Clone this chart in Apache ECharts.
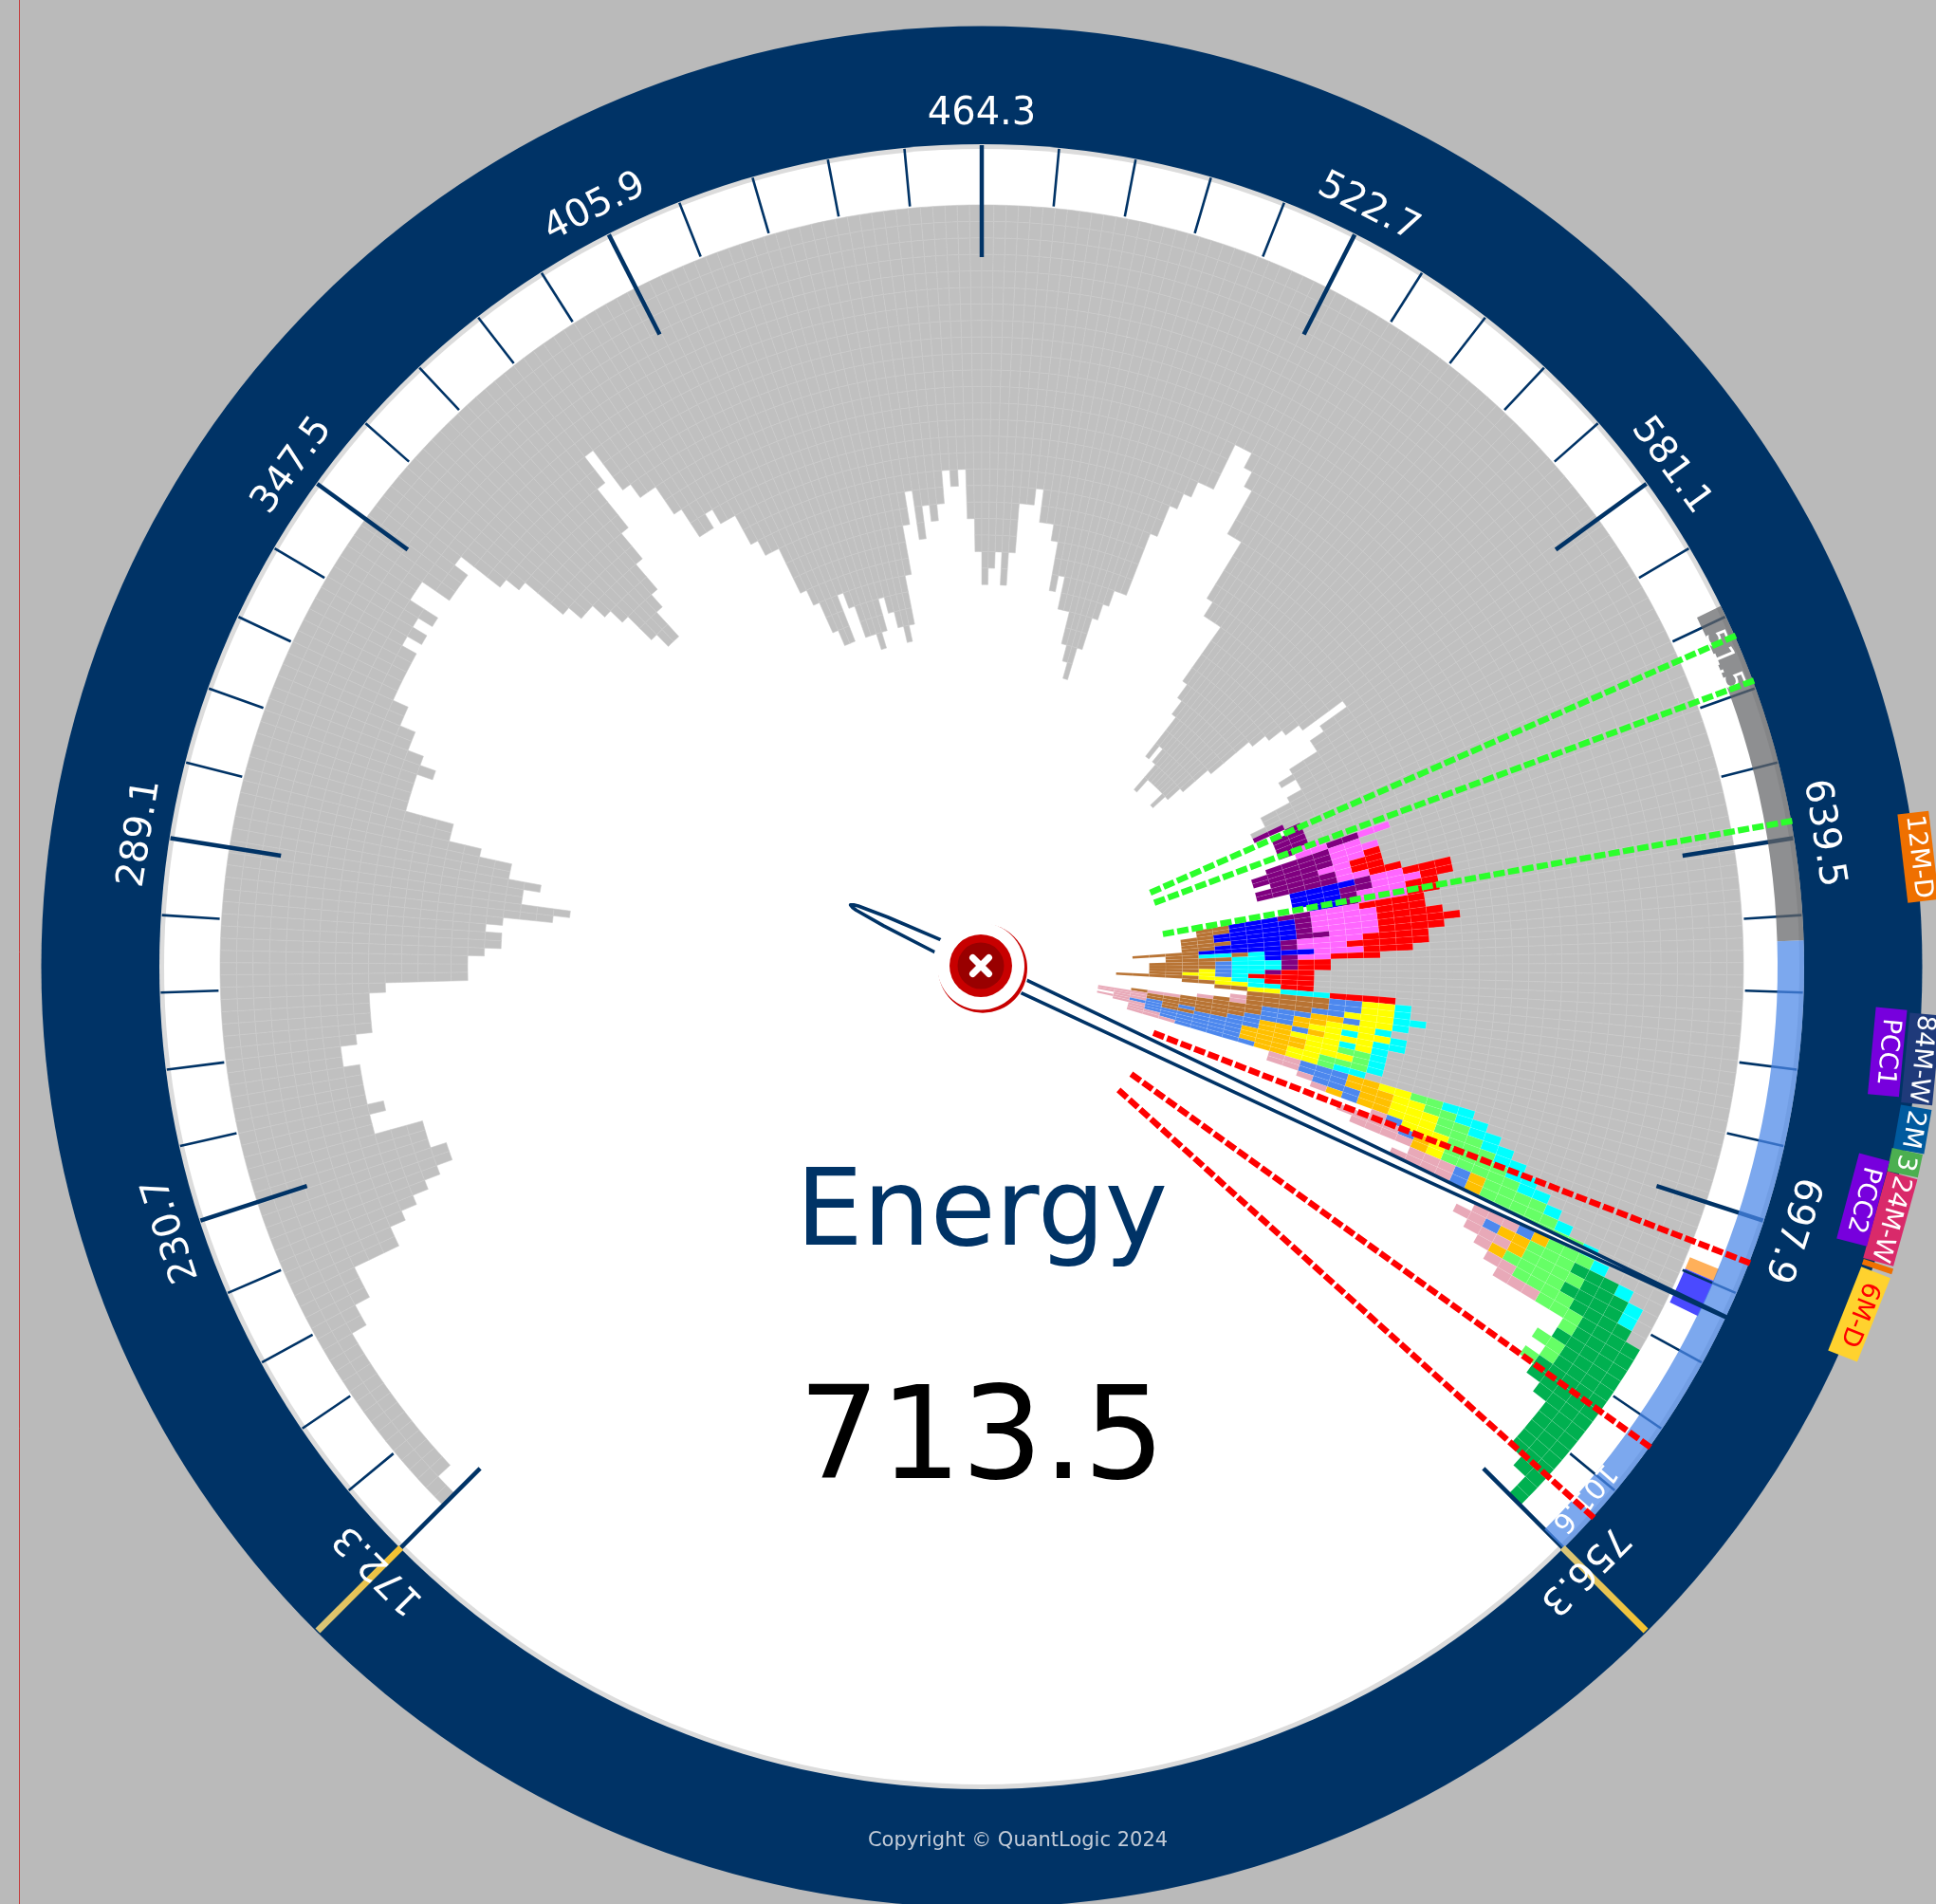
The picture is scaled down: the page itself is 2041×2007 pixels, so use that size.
<!DOCTYPE html>
<html>
<head>
<meta charset="utf-8">
<style>
html,body{margin:0;padding:0;background:#bababa;}
#chart{width:2041px;height:2007px;}
</style>
<script src="https://cdn.jsdelivr.net/npm/echarts@6/dist/echarts.min.js"></script>
</head>
<body>
<div id="chart"></div>
<script>
// price axis
var priceMin = 172.3, priceMax = 756.3, binSize = 2;
var majorTicks = [172.3, 230.7, 289.1, 347.5, 405.9, 464.3, 522.7, 581.1, 639.5, 697.9, 756.3];
var goldTicks = [172.3, 756.3];
var currentPrice = 713.5;

// grey cells per price bin, lowest price first (bins 0-215)
var greyCells = [
  1,1,2,2,2,2,2,2,2,2,
  2,2,2,2,2,2,3,3,4,4,
  4,7,7,8,9,10,11,12,12,11,
  11,11,8,8,9,8,8,8,8,7,
  7,8,9,9,9,9,10,15,15,15,
  16,17,17,16,17,20,21,18,18,19,
  17,17,15,13,13,10,10,10,10,11,
  10,9,9,8,8,7,7,7,7,7,
  6,7,6,7,5,5,7,7,7,6,
  9,10,13,14,14,15,16,18,19,19,
  17,16,14,12,9,7,10,11,11,13,
  15,15,14,15,15,17,18,18,21,22,
  24,25,25,22,23,25,25,26,25,23,
  24,25,26,25,22,19,17,20,18,19,
  18,16,17,16,19,21,23,22,21,23,
  21,18,18,17,19,19,20,23,22,24,
  24,26,27,28,26,24,23,22,22,18,
  16,15,14,14,11,11,12,13,16,16,
  20,21,21,21,25,26,27,30,29,30,
  32,31,31,31,31,31,32,31,30,28,
  25,24,23,22,19,21,22,22,24,25,
  24,24,25,27,27,28
];

// bins 216-291: grey cells before the coloured periods, then one letter per period cell
var tpoStart = [
  26,25,25,25,25,24,20,22,21,21,21,21,20,17,17,18,18,19,19,18,
  17,18,19,19,20,22,25,25,26,26,26,26,21,20,20,19,20,21,20,20,
  21,21,21,21,22,15,14,13,12,11,10,9,8,7,5,4,2,1,1,1,
  0,0,0,0,0,0,0,0,0,0,0,0,0,0,0,0
];
var tpoRows = [
  'PP','P','PP','PP','PP','MMP','MMPPMM','MMPPPP','MMMPPPPP','RMMPPPPP',
  'RRMMPPP','RRMPPPPP','RRMMPPPPP','RRRMMPBBBB','RRMMMPPBBB','RRMMMPBBB','RRMMMPBB','RRRRMMMPPBBBNN','RRRMMMMPBBBBNN','RRRRMMMMPBBBBBNN',
  'RRRRRMMMMPBBBBBNN','RRRRMMMPPBBBBNNN','RRRRMMMMPBBBBNN','RRRRRMMMPBBBBBNNNN','RRRMMMBBBCNCCNN','RRRMMPBCCNNNN','RRPCCCLNNNN','RRPCCCLNNNN','RRPCCLYNNN','RRRRCLYYNN',
  'RRRCCYYNNNNN','RRCCYYNN','RRRRCCCYYNN','CYYLLNNNNN','CYYLLNNNNNK','CCYYYLLNNNNKNK','CYYLOOLLLNNNNNKKN','CYYYOOLLNNNNNNNKKK','CYYCYYOLLLNNNNNNKKK','CCYYYOLOOLLNNLNLKK',
  'CYCYYYOOLLLLNNLLKK','CGGYYOOOOLLLLLLKK','CGYYYOOOOLLLLLLK','CGGGYYOOOLLLLLKK','CCGYYOOLLLLLKKK','CCGGYYOOLLLKK','CCGGYYOOOLLLKK','CCGGYYYOOLLLK','CCGGGYYYOOLOK','CCGGGYYYLK',
  'CCGGGGYOLKKKK','CCGGGGGYOKKKK','CGGGGOLKKK','CGGGGGOLKKKK','CGGGGGGGLKKK','CGGGOLKKK','CDDDGGGOOLKK','CDDDGGGGOKKK','CDDDDGGGGOK','DDDDGGGGKK',
  'DDDDGGGKKK','DDDDG','DDDDD','DDDDGG','DDDDG','DDDDDG','DDDDD','DDDD','DDD','DDD',
  'DDD','DDD','DDD','DD','D','D'
];
var tpoColors = {
  R:'#ff0000', M:'#ff66ff', P:'#800080', B:'#0000ff', C:'#00ffff', N:'#b87333',
  Y:'#ffff00', O:'#ffc000', L:'#4d88ee', K:'#e8a9b8', G:'#66ff66', D:'#00b050'
};

// level lines
var greenLevels = [607.7, 615, 636.9];
var redLevels = [704.6, 736.2, 749.8];

// range bands on the rim
var bandFrom = [602.7, 655];
var bandTo = [655, 756.3];
var bandLabels = ['51.5', '101.6'];
var bandLabelPrice = [610.5, 748.5];

// small blocks in the white ring
var blockFrom = [707.2, 709.2];
var blockTo = [709.2, 715.2];

// tags outside the rim
var tagNames = ['12M-D', 'PCC1', '84M-W', '2M', '3', '24M-W', '', '6M-D', 'PCC2'];
var tagPrices = [644.5, 670.6, 671.1, 680.4, 684.9, 692.5, 699, 705.7, 691];

// ---- layout and style ----
var cx = 1035, cy = 1019, outerR = 991.5, cellPx = 17.4, cellsR = 803;
function rv(r) { return (cellsR - r) / cellPx; } // pixel radius to radius axis value

var bandColors = ['rgba(99,100,103,0.72)', 'rgba(74,134,232,0.72)'];
var blockColors = ['#ffb05a', '#4a4aff'];
var tagStyle = [
  {r:994, len:94, bg:'#ef7000', fg:'#fff'},
  {r:959, len:92, bg:'#7700dd', fg:'#fff'},
  {r:995, len:95, bg:'#1f3a7a', fg:'#fff'},
  {r:996, len:47, bg:'#005a9e', fg:'#fff'},
  {r:995, len:25, bg:'#4caf50', fg:'#fff'},
  {r:994, len:95, bg:'#d92a6a', fg:'#fff'},
  {r:996, len:6, bg:'#ef7000', fg:'#fff'},
  {r:995, len:95, bg:'#ffd22e', fg:'#ff0000'},
  {r:961, len:93, bg:'#7700dd', fg:'#fff'}
];
// needle outline: distance along the axis, full width
var needleS = [-153,-150,-145,-112,-50,50,127,348,495,605,750,869];
var needleW = [0,3,5,10,14.5,14.5,14,12,9.5,7,3.5,1];

// ---- build series data ----
var cellData = [];
var letters = Object.keys(tpoColors);
function pushCells(i, from, n, colorIdx) {
  for (var k = 0; k < n; k++) {
    cellData.push([priceMin + i * binSize, from + k, colorIdx]);
  }
}
greyCells.forEach(function (n, i) { pushCells(i, 0, n, -1); });
tpoStart.forEach(function (start, j) {
  var i = greyCells.length + j;
  pushCells(i, 0, start, -1);
  tpoRows[j].split('').forEach(function (ch, k) {
    if (ch !== '.') pushCells(i, start + k, 1, letters.indexOf(ch));
  });
});

var tickData = [];
majorTicks.forEach(function (p, i) {
  tickData.push([p, 1]);
  if (i < majorTicks.length - 1) {
    for (var k = 1; k < 5; k++) tickData.push([p + k * (majorTicks[i + 1] - p) / 5, 0]);
  }
});

function sector(api, p0, p1, d0, d1) {
  var a = api.coord([d0, p0]), b = api.coord([d1, p1]);
  return {
    cx: cx, cy: cy,
    r: Math.max(a[2], b[2]), r0: Math.min(a[2], b[2]),
    startAngle: -a[3], endAngle: -b[3], clockwise: true
  };
}
function spoke(api, p, r0, r1) {
  var a = api.coord([rv(r0), p]), b = api.coord([rv(r1), p]);
  return {x1: a[0], y1: a[1], x2: b[0], y2: b[1]};
}
function layer(name, data, renderItem, z) {
  return {
    type: 'custom', name: name, coordinateSystem: 'polar', silent: true, animation: false,
    encode: {angle: 0, radius: 1}, clip: false, z: z, data: data, renderItem: renderItem
  };
}

var option = {
  backgroundColor: '#bababa',
  animation: false,
  polar: {center: [cx, cy], radius: [0, outerR]},
  angleAxis: {
    type: 'value', min: priceMin, max: priceMax, startAngle: 225, endAngle: -45, clockwise: true,
    axisLine: {show: false}, axisTick: {show: false}, axisLabel: {show: false}, splitLine: {show: false}
  },
  radiusAxis: {
    type: 'value', inverse: true, min: rv(outerR), max: rv(0),
    axisLine: {show: false}, axisTick: {show: false}, axisLabel: {show: false}, splitLine: {show: false}
  },
  graphic: [
    {type:'line', z:-2, shape:{x1:20.5,y1:0,x2:20.5,y2:2007}, style:{stroke:'#c43c3c', lineWidth:1}},
    {type:'circle', z:-1, shape:{cx:cx,cy:cy,r:outerR}, style:{fill:'#003366'}},
    {type:'circle', z:-1, shape:{cx:cx,cy:cy,r:867}, style:{fill:'#dcdcdc'}},
    {type:'circle', z:-1, shape:{cx:cx,cy:cy,r:862}, style:{fill:'#ffffff'}},
    {type:'text', z:60, style:{x:cx,y:1283,text:'Energy',textAlign:'center',textVerticalAlign:'middle',font:'112px "DejaVu Sans"',fill:'#003366'}},
    {type:'text', z:60, style:{x:cx,y:1523,text:String(currentPrice),textAlign:'center',textVerticalAlign:'middle',font:'135px "DejaVu Sans"',fill:'#000000'}},
    {type:'text', z:60, style:{x:1073,y:1941,text:'Copyright © QuantLogic 2024',textAlign:'center',textVerticalAlign:'middle',font:'21px "DejaVu Sans"',fill:'#c3ccd8'}},
    // close button
    {type:'circle', z:59, shape:{cx:1034,cy:1018.5,r:51}, style:{fill:'#ffffff'}},
    {type:'circle', z:60, shape:{cx:1036,cy:1020.7,r:47}, style:{fill:'#c80000'}},
    {type:'circle', z:61, shape:{cx:1034,cy:1018.5,r:46}, style:{fill:'#ffffff'}},
    {type:'circle', z:62, shape:{cx:1034,cy:1018,r:33}, style:{fill:'#c80000'}},
    {type:'circle', z:63, shape:{cx:1034,cy:1018,r:24.5}, style:{fill:'#990000'}},
    {type:'line', z:64, shape:{x1:1025.5,y1:1009.5,x2:1042.5,y2:1026.5}, style:{stroke:'#fff',lineWidth:7,lineCap:'round'}},
    {type:'line', z:64, shape:{x1:1042.5,y1:1009.5,x2:1025.5,y2:1026.5}, style:{stroke:'#fff',lineWidth:7,lineCap:'round'}}
  ],
  series: [
    layer('cells', cellData, function (params, api) {
      var p = api.value(0), d = api.value(1), c = api.value(2);
      var end = Math.min(p + binSize, priceMax);
      return {
        type: 'sector',
        shape: sector(api, p, end, d, d + 1),
        style: c < 0 ? {fill: '#c0c0c0', stroke: '#cacaca', lineWidth: 0.6}
                     : {fill: tpoColors[letters[c]], stroke: 'rgba(255,255,255,0.12)', lineWidth: 0.6}
      };
    }, 2),
    layer('blocks', blockFrom.map(function (p, i) { return [p, 0, i]; }), function (params, api) {
      var i = api.value(2);
      return {type: 'sector', shape: sector(api, blockFrom[i], blockTo[i], rv(807), rv(840)), style: {fill: blockColors[i]}};
    }, 3),
    layer('ticks', tickData, function (params, api) {
      var major = api.value(1);
      return {
        type: 'line',
        shape: spoke(api, api.value(0), major ? 748 : 805, 866),
        style: {stroke: '#003366', lineWidth: major ? 4.5 : 2.6}
      };
    }, 4),
    layer('bands', bandFrom.map(function (p, i) { return [p, 0, i]; }), function (params, api) {
      var i = api.value(2);
      return {type: 'sector', shape: sector(api, bandFrom[i], bandTo[i], rv(839), rv(867)), style: {fill: bandColors[i]}};
    }, 5),
    layer('gold', goldTicks.map(function (p, i) { return [p, 0, i]; }), function (params, api) {
      var s = spoke(api, api.value(0), 866, 990);
      var ends = api.value(2) ? ['#d8c57a', '#f5c22e'] : ['#f5c22e', '#d8c57a'];
      var grad = new echarts.graphic.LinearGradient(s.x1, s.y1, s.x2, s.y2, [
        {offset: 0, color: ends[0]}, {offset: 1, color: ends[1]}
      ], true);
      return {type: 'line', shape: s, style: {stroke: grad, lineWidth: 7}};
    }, 6),
    layer('labels', majorTicks.map(function (p) { return [p, 0]; }), function (params, api) {
      var a = api.coord([rv(898), api.value(0)]);
      return {
        type: 'text', x: a[0], y: a[1], rotation: a[3] - Math.PI / 2,
        style: {text: api.value(0).toFixed(1), fill: '#ffffff', font: '40px "DejaVu Sans"', align: 'center', verticalAlign: 'middle'}
      };
    }, 7),
    layer('bandLabels', bandLabelPrice.map(function (p, i) { return [p, 0, i]; }), function (params, api) {
      var i = api.value(2), a = api.coord([rv(846), bandLabelPrice[i]]);
      return {
        type: 'text', x: a[0], y: a[1], rotation: a[3] - Math.PI / 2,
        style: {text: bandLabels[i], fill: '#ffffff', font: '30px "DejaVu Sans"', align: 'center', verticalAlign: 'middle'}
      };
    }, 7),
    layer('tags', tagPrices.map(function (p, i) { return [p, 0, i]; }), function (params, api) {
      var i = api.value(2), st = tagStyle[i], a = api.coord([rv(st.r), tagPrices[i]]);
      return {
        type: 'group', x: a[0], y: a[1], rotation: a[3] - Math.PI / 2,
        children: [
          {type: 'rect', shape: {x: -st.len / 2, y: -16.5, width: st.len, height: 33}, style: {fill: st.bg}},
          {type: 'text', style: {x: 0, y: 0, text: tagNames[i], fill: st.fg, font: '27px "DejaVu Sans"', align: 'center', verticalAlign: 'middle'}}
        ]
      };
    }, 8),
    layer('levels', greenLevels.map(function (p) { return [p, 0, 0]; }).concat(redLevels.map(function (p) { return [p, 0, 1]; })), function (params, api) {
      return {
        type: 'line', shape: spoke(api, api.value(0), 194, 870),
        style: {stroke: api.value(2) ? '#ff0000' : '#2bff2b', lineWidth: 6.5, lineDash: [12, 3.4]}
      };
    }, 9),
    layer('needle', [[currentPrice, 0]], function (params, api) {
      var a = api.coord([rv(869), api.value(0)]);
      var ux = (a[0] - cx) / a[2], uy = (a[1] - cy) / a[2];
      var pts = [];
      needleS.forEach(function (s, i) {
        pts.push([cx + ux * s - uy * needleW[i] / 2, cy + uy * s + ux * needleW[i] / 2]);
      });
      for (var i = needleS.length - 1; i >= 0; i--) {
        pts.push([cx + ux * needleS[i] + uy * needleW[i] / 2, cy + uy * needleS[i] - ux * needleW[i] / 2]);
      }
      return {type: 'polygon', shape: {points: pts}, style: {fill: '#ffffff', stroke: '#003366', lineWidth: 3.6, lineJoin: 'round'}};
    }, 10)
  ]
};

var myChart = echarts.init(document.getElementById('chart'));
myChart.setOption(option);
</script>
</body>
</html>
